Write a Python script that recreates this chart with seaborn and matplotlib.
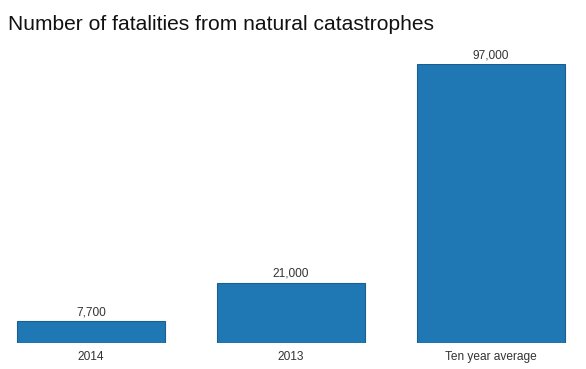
import pandas as pd
import seaborn as sns
import matplotlib.pyplot as plt

# values
categories = ["2014", "2013", "Ten year average"]
fatalities = [7700, 21000, 97000]

df = pd.DataFrame({"period": categories, "fatalities": fatalities})

sns.set_style("white")
plt.rcParams["font.family"] = ["Liberation Sans", "DejaVu Sans"]

fig = plt.figure(figsize=(5.86, 3.69), dpi=100)
ax = fig.add_axes([0, 26 / 369, 1, (343 - 64) / 369])

sns.barplot(
    data=df, x="period", y="fatalities",
    color="#1f77b4", saturation=1, width=0.74,
    edgecolor="#1a5f8f", linewidth=0.8, ax=ax,
)

ax.set_xlim(-91 / 200, 495 / 200)
ax.set_ylim(0, 97000)
ax.set_xlabel("")
ax.set_ylabel("")
ax.set_yticks([])
ax.tick_params(axis="x", length=0, labelsize=8.6, labelcolor="#333333", pad=6)
for s in ax.spines.values():
    s.set_visible(False)

ax.bar_label(ax.containers[0], labels=[f"{v:,}" for v in fatalities],
             padding=2, fontsize=8.6, color="#333333")

fig.text(8 / 586, 1 - 30 / 369, "Number of fatalities from natural catastrophes",
         fontsize=15.1, color="#111111", ha="left", va="baseline")

fig.savefig("out.png", dpi=100)
